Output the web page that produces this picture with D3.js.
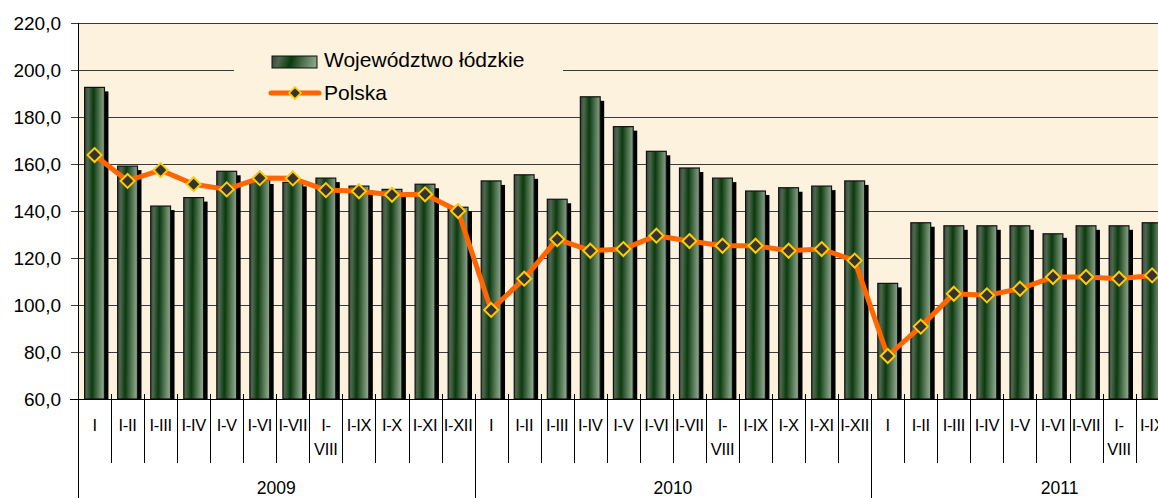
<!DOCTYPE html>
<html lang="pl">
<head>
<meta charset="UTF-8"/>
<title>Województwo łódzkie vs Polska</title>
<script src="https://d3js.org/d3.v7.min.js"></script>
<style>
    body { margin: 0; background: #fff; }
    svg { display: block; font-family: "Liberation Sans", Arial, sans-serif; }
</style>
</head>
<body>
<script>
    // data
    var months = ["I", "I-II", "I-III", "I-IV", "I-V", "I-VI", "I-VII", "I-VIII", "I-IX", "I-X", "I-XI", "I-XII"];
    var years = ["2009", "2010", "2011"];
    var monthsPerYear = [12, 12, 9];

    var lodzkie = [
        192.6, 159.1, 142.1, 145.7, 156.9, 153.2, 152.2, 154.0, 150.6, 149.2, 151.4, 141.6,
        152.8, 155.4, 145.0, 188.6, 175.9, 165.4, 158.3, 154.0, 148.5, 149.9, 150.6, 152.8,
        109.2, 135.0, 133.7, 133.7, 133.7, 130.3, 133.7, 133.7, 135.0
    ];
    var polska = [
        163.8, 152.8, 157.4, 151.4, 149.2, 154.0, 153.9, 148.9, 148.4, 146.9, 147.1, 140.0,
        97.9, 111.2, 128.0, 123.1, 123.8, 129.5, 127.2, 125.2, 125.2, 123.1, 123.8, 118.9,
        78.3, 90.8, 104.8, 104.1, 106.9, 111.9, 111.9, 111.2, 112.6
    ];
    var yTicks = [60, 80, 100, 120, 140, 160, 180, 200, 220];

    var w = 1158, h = 498;
    var plotLeft = 78, plotTop = 23, plotBottom = 399;
    var step = 33.05;
    var bg = "#fdf2dd";

    // category list built from months/years
    var cats = [];
    years.forEach(function(yr, yi) {
        for (var m = 0; m < monthsPerYear[yi]; m++) {
            cats.push({ year: yr, label: months[m] });
        }
    });
    var n = cats.length;
    var plotRight = plotLeft + step * n;

    var x = d3.scaleBand()
        .domain(d3.range(n))
        .range([plotLeft, plotRight])
        .padding(0);
    var y = d3.scaleLinear()
        .domain([60, 220])
        .range([plotBottom, plotTop]);

    var barW = x.bandwidth() * 0.6;
    var cx = function(i) { return x(i) + x.bandwidth() / 2; };

    var svg = d3.select("body").append("svg")
        .attr("width", w)
        .attr("height", h);

    var defs = svg.append("defs");
    var grad = defs.append("linearGradient")
        .attr("id", "barGrad")
        .attr("x1", "0").attr("y1", "0")
        .attr("x2", "1").attr("y2", "0.08");
    [["0%", "#35453a"], ["18%", "#4e684e"], ["45%", "#0b3a0e"], ["78%", "#5b7b5b"], ["100%", "#88a488"]]
        .forEach(function(s) {
            grad.append("stop").attr("offset", s[0]).attr("stop-color", s[1]);
        });

    // plot background
    svg.append("rect")
        .attr("x", plotLeft).attr("y", plotTop)
        .attr("width", plotRight - plotLeft).attr("height", plotBottom - plotTop)
        .attr("fill", bg);

    // gridlines
    svg.append("g")
        .selectAll("line")
        .data(yTicks)
        .enter()
        .append("line")
        .attr("x1", plotLeft - 7)
        .attr("x2", plotRight)
        .attr("y1", function(d) { return Math.round(y(d)) + 0.5; })
        .attr("y2", function(d) { return Math.round(y(d)) + 0.5; })
        .attr("stroke", "#3a3a3a")
        .attr("stroke-width", 1);

    // y tick labels
    svg.append("g")
        .selectAll("text")
        .data(yTicks)
        .enter()
        .append("text")
        .attr("x", 61)
        .attr("y", function(d) { return y(d); })
        .attr("dy", "0.35em")
        .attr("text-anchor", "end")
        .attr("font-size", 19)
        .attr("fill", "#000")
        .text(function(d) { return d3.format(".1f")(d).replace(".", ","); });

    // legend box hides part of the 200 gridline
    svg.append("rect")
        .attr("x", 234).attr("y", 32)
        .attr("width", 329).attr("height", 78)
        .attr("fill", bg);

    // bars: shadow then bar
    var bars = svg.append("g");
    bars.selectAll("rect.shadow")
        .data(lodzkie)
        .enter()
        .append("rect")
        .attr("class", "shadow")
        .attr("x", function(d, i) { return cx(i) - barW / 2 + 4; })
        .attr("y", function(d) { return y(d) + 4; })
        .attr("width", barW)
        .attr("height", function(d) { return plotBottom - y(d) - 4; })
        .attr("fill", "#000");
    bars.selectAll("rect.bar")
        .data(lodzkie)
        .enter()
        .append("rect")
        .attr("class", "bar")
        .attr("x", function(d, i) { return cx(i) - barW / 2; })
        .attr("y", function(d) { return y(d); })
        .attr("width", barW)
        .attr("height", function(d) { return plotBottom - y(d); })
        .attr("fill", "url(#barGrad)")
        .attr("stroke", "#111")
        .attr("stroke-width", 1.2);

    // Polska line
    var line = d3.line()
        .x(function(d, i) { return cx(i); })
        .y(function(d) { return y(d); });
    svg.append("path")
        .datum(polska)
        .attr("d", line)
        .attr("fill", "none")
        .attr("stroke", "#ff6600")
        .attr("stroke-width", 5)
        .attr("stroke-linejoin", "round");

    var diamond = "M0,-7L7,0L0,7L-7,0Z";
    svg.append("g")
        .selectAll("path")
        .data(polska)
        .enter()
        .append("path")
        .attr("d", diamond)
        .attr("transform", function(d, i) { return "translate(" + cx(i) + "," + y(d) + ")"; })
        .attr("fill", "#333333")
        .attr("stroke", "#ffcc00")
        .attr("stroke-width", 2);

    // y axis line
    svg.append("line")
        .attr("x1", plotLeft + 0.5).attr("x2", plotLeft + 0.5)
        .attr("y1", plotTop).attr("y2", plotBottom)
        .attr("stroke", "#000");

    // x axis line
    svg.append("line")
        .attr("x1", 70).attr("x2", plotRight)
        .attr("y1", plotBottom + 0.5).attr("y2", plotBottom + 0.5)
        .attr("stroke", "#000");

    // category dividers
    var firsts = [];
    var acc = 0;
    monthsPerYear.forEach(function(c) { firsts.push(acc); acc += c; });
    svg.append("g")
        .selectAll("line")
        .data(d3.range(n + 1))
        .enter()
        .append("line")
        .attr("x1", function(i) { return Math.round(plotLeft + i * step) + 0.5; })
        .attr("x2", function(i) { return Math.round(plotLeft + i * step) + 0.5; })
        .attr("y1", plotBottom - 5)
        .attr("y2", function(i) { return (firsts.indexOf(i) >= 0 || i === n) ? h : 463; })
        .attr("stroke", "#000");

    // category labels
    var catLabels = svg.append("g")
        .selectAll("text")
        .data(cats)
        .enter()
        .append("text")
        .attr("x", function(d, i) { return cx(i); })
        .attr("y", 431)
        .attr("text-anchor", "middle")
        .attr("font-size", 16.5)
        .attr("letter-spacing", "-0.3px")
        .attr("fill", "#000");
    catLabels.each(function(d, i) {
        var t = d3.select(this);
        if (d.label.length > 5) {
            var k = d.label.indexOf("-") + 1;
            t.append("tspan").attr("x", cx(i)).text(d.label.slice(0, k));
            t.append("tspan").attr("x", cx(i)).attr("dy", 24).text(d.label.slice(k));
        } else {
            t.text(d.label);
        }
    });

    // year labels
    svg.append("g")
        .selectAll("text")
        .data(years)
        .enter()
        .append("text")
        .attr("x", function(d, i) {
            var a = plotLeft + firsts[i] * step;
            var b = (i < years.length - 1) ? plotLeft + firsts[i + 1] * step : plotLeft + (firsts[i] + 12) * step;
            return (a + Math.min(b, w + 90)) / 2;
        })
        .attr("y", 494)
        .attr("text-anchor", "middle")
        .attr("font-size", 17.5)
        .attr("fill", "#000")
        .text(function(d) { return d; });

    // legend
    var lg = svg.append("g");
    lg.append("rect")
        .attr("x", 272).attr("y", 56)
        .attr("width", 45).attr("height", 12)
        .attr("fill", "url(#barGrad)")
        .attr("stroke", "#111");
    lg.append("text")
        .attr("x", 324).attr("y", 67)
        .attr("font-size", 21)
        .text("Województwo łódzkie");
    lg.append("line")
        .attr("x1", 271).attr("x2", 319)
        .attr("y1", 93).attr("y2", 93)
        .attr("stroke", "#ff6600")
        .attr("stroke-width", 5)
        .attr("stroke-linecap", "round");
    lg.append("path")
        .attr("d", diamond)
        .attr("transform", "translate(295,93) scale(0.85)")
        .attr("fill", "#333333")
        .attr("stroke", "#ffcc00")
        .attr("stroke-width", 2);
    lg.append("text")
        .attr("x", 324).attr("y", 100)
        .attr("font-size", 21)
        .text("Polska");
</script>
</body>
</html>
